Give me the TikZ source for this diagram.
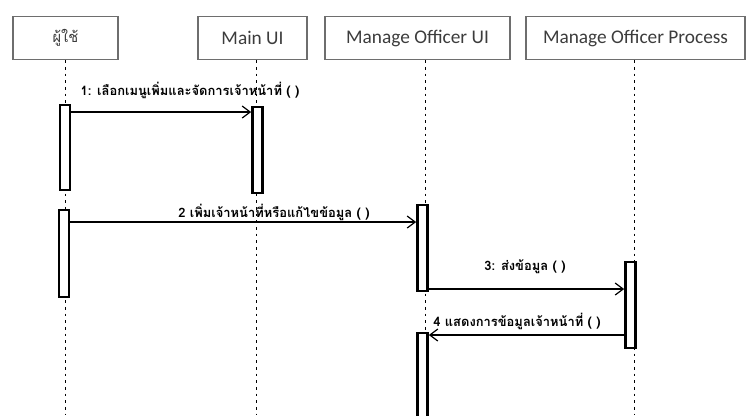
\documentclass[tikz,border=0pt]{standalone}
\usepackage{fontspec}
\setmainfont{Carlito}
\newfontfamily\thaifont[Script=Thai]{Loma}
\usetikzlibrary{arrows.meta}

\definecolor{boxgray}{RGB}{110,110,110}
\definecolor{textgray}{RGB}{60,60,60}
\tikzstyle{lifebox}=[draw=boxgray,line width=1.1pt,rectangle,minimum height=32.25pt,inner sep=0pt,text=textgray,font=\fontsize{14.5}{16}\selectfont]
\tikzstyle{lifeline}=[line width=0.7pt,dash pattern=on 2pt off 3pt]
\tikzstyle{bar}=[draw,line width=2pt,fill=white,rectangle,inner sep=0pt,minimum width=7.5pt]
\tikzstyle{msg}=[line width=0.9pt,-{Straight Barb[length=6pt,width=9pt]}]
\tikzstyle{msglabel}=[font=\thaifont\bfseries\fontsize{9.7}{11}\selectfont,inner sep=0pt]

\begin{document}
\begin{tikzpicture}[x=0.75pt,y=-0.75pt]
    \useasboundingbox (0,0) rectangle (746,415);
    % object boxes
    \node (user)[lifebox,minimum width=78.75pt] at (65.5,38) {\thaifont\fontsize{11}{13}\selectfont ผู้ใช้};
    \node (mainui)[lifebox,minimum width=81.75pt] at (252.5,38) {Main UI};
    \node (offui)[lifebox,minimum width=138.75pt] at (417.5,38) {Manage Officer UI};
    \node (offproc)[lifebox,minimum width=164.25pt] at (635.5,38) {Manage Officer Process};
    % lifelines
    \coordinate (userend) at (65,415);
    \coordinate (mainend) at (256,415);
    \coordinate (offuiend) at (425,415);
    \coordinate (procend) at (634,415);
    \draw[lifeline] (user.south -| userend) -- (userend);
    \draw[lifeline] (mainui.south -| mainend) -- (mainend);
    \draw[lifeline] (offui.south -| offuiend) -- (offuiend);
    \draw[lifeline] (offproc.south -| procend) -- (procend);
    % activation bars
    \node (ub1)[bar,minimum height=63.75pt] at (65,147.5) {};
    \node (mb1)[bar,minimum height=64.5pt] at (257.5,150) {};
    \node (ub2)[bar,minimum height=65.25pt] at (64,253.5) {};
    \node (ob1)[bar,minimum height=64.5pt] at (422.5,248) {};
    \node (pb1)[bar,minimum height=64.5pt] at (630.5,305) {};
    \node (ob2)[bar,minimum height=64.5pt] at (422.5,376) {};
    % messages
    \draw[msg] (ub1.east |- 0,112) -- (mb1.west |- 0,112);
    \draw[msg] (ub2.east |- 0,222) -- (ob1.west |- 0,222);
    \draw[msg] (ob1.east |- 0,289) -- (pb1.west |- 0,289);
    \draw[msg] (pb1.west |- 0,335) -- (ob2.east |- 0,335);
    \node (l1)[msglabel] at (190,90) {1: เลือกเมนูเพิ่มและจัดการเจ้าหน้าที่ ( )};
    \node (l2)[msglabel] at (274,212) {2 เพิ่มเจ้าหน้าที่หรือแก้ไขข้อมูล ( )};
    \node (l3)[msglabel] at (525,267) {3: ส่งข้อมูล ( )};
    \node (l4)[msglabel] at (517,321) {4 แสดงการข้อมูลเจ้าหน้าที่ ( )};
\end{tikzpicture}
\end{document}
